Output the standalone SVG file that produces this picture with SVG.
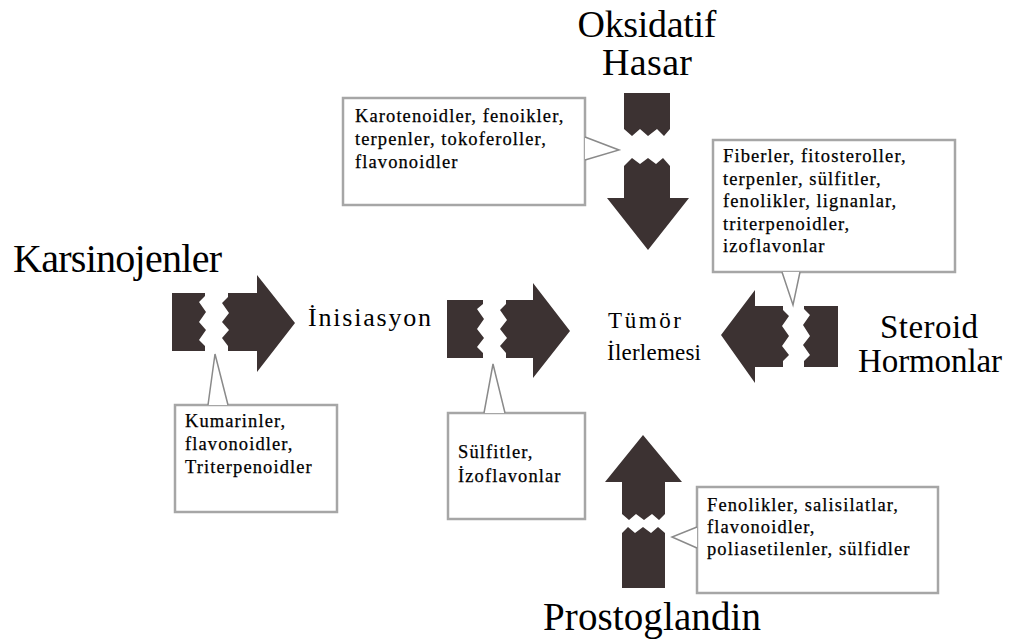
<svg xmlns="http://www.w3.org/2000/svg" width="1013" height="644" viewBox="0 0 1013 644">
<style>
.a{fill:#3c3232}
.box{fill:#fff;stroke:#a6a6a6;stroke-width:2.5}
.co{fill:#fff;stroke:#8a8a8a;stroke-width:1.5}
.t{font-family:"Liberation Serif","Times New Roman",serif;fill:#000}
.bt{font-family:"Liberation Serif","Times New Roman",serif;font-size:18.5px;letter-spacing:1.1px;fill:#000;stroke:#000;stroke-width:0.25}
</style>
<rect width="1013" height="644" fill="#fff"/>
<g id="connectors">
<g id="arrow-karsinojen">
<path class="a" d="M172,293 H205 V296 L199,302 L206,312 L199,322 L206,330 L199,340 L205,346 V351 H172 Z"/>
<path class="a" d="M228,293 H257 V275 L295,323 L257,372 V351 H228 V346 L222,338 L229,330 L222,322 L229,313 L222,303 L228,297 Z"/>
</g>
<g id="arrow-inisiasyon">
<path class="a" d="M447,300 H483 V304 L477,309 L484,319 L477,329 L484,338 L477,347 L483,353 V358 H447 Z"/>
<path class="a" d="M506,300 H533 V283 L570,331 L533,378 V358 H506 V353 L500,346 L507,338 L500,329 L507,320 L500,310 L506,304 Z"/>
</g>
<g id="arrow-steroid">
<path class="a" d="M838,306 H804 V309 L810,315 L803,325 L810,336 L803,345 L810,355 L804,361 V367 H838 Z"/>
<path class="a" d="M783,306 H755 V290 L721,335 L755,383 V367 H783 V361 L789,355 L782,346 L789,336 L782,326 L789,316 L783,310 Z"/>
</g>
<g id="arrow-oksidatif">
<path class="a" d="M624,93 H670 V129 L664,136 L657,129 L648,136 L640,129 L632,136 L624,129 Z"/>
<path class="a" d="M624,166 L632,158 L640,164 L648,158 L656,164 L663,158 L670,166 V198 H689 L648,250 L607,198 H624 Z"/>
</g>
<g id="arrow-prostoglandin">
<path class="a" d="M643,435 L682,482 H665 V514 L659,520 L652,514 L644,520 L636,514 L629,520 L622,514 V482 H605 Z"/>
<path class="a" d="M622,533 L628,527 L635,533 L643,527 L651,533 L658,527 L665,533 V588 H622 Z"/>
</g>
</g>
<g id="labels">
<text class="t" x="647" y="37" font-size="38" text-anchor="middle" textLength="139">Oksidatif</text>
<text class="t" x="647" y="75" font-size="38" text-anchor="middle" textLength="90">Hasar</text>
<text class="t" x="13" y="272" font-size="40" textLength="209">Karsinojenler</text>
<text class="t" x="929" y="338" font-size="33" text-anchor="middle" textLength="98">Steroid</text>
<text class="t" x="930" y="372" font-size="33" text-anchor="middle" textLength="144">Hormonlar</text>
<text class="t" x="652" y="630" font-size="39" text-anchor="middle" textLength="218">Prostoglandin</text>
<text class="t" x="308" y="326" font-size="26" textLength="123">İnisiasyon</text>
<text class="t" x="608" y="328" font-size="23" textLength="73">Tümör</text>
<text class="t" x="607" y="360" font-size="23" textLength="94">İlerlemesi</text>
</g>
<g id="box-karotenoid">
<rect class="box" x="343" y="98" width="242" height="107"/>
<path class="co" d="M585,137 L619,150 L585,160"/>
<text class="bt" x="355" y="122">Karotenoidler, fenoikler,</text>
<text class="bt" x="355" y="145">terpenler, tokoferoller,</text>
<text class="bt" x="355" y="168">flavonoidler</text>
</g>
<g id="box-fiber">
<rect class="box" x="713" y="140" width="242" height="132"/>
<path class="co" d="M782,272 L793,305 L800,272"/>
<text class="bt" x="723" y="162">Fiberler, fitosteroller,</text>
<text class="bt" x="723" y="185">terpenler, sülfitler,</text>
<text class="bt" x="723" y="207">fenolikler, lignanlar,</text>
<text class="bt" x="723" y="230">triterpenoidler,</text>
<text class="bt" x="723" y="252">izoflavonlar</text>
</g>
<g id="box-kumarin">
<rect class="box" x="175" y="405" width="162" height="107"/>
<path class="co" d="M208,405 L215,354 L228,405"/>
<text class="bt" x="185" y="427">Kumarinler,</text>
<text class="bt" x="185" y="450">flavonoidler,</text>
<text class="bt" x="185" y="473">Triterpenoidler</text>
</g>
<g id="box-sulfit">
<rect class="box" x="448" y="413" width="137" height="106"/>
<path class="co" d="M484,413 L493,364 L505,413"/>
<text class="bt" x="458" y="458">Sülfitler,</text>
<text class="bt" x="458" y="482">İzoflavonlar</text>
</g>
<g id="box-fenolik">
<rect class="box" x="697" y="487" width="241" height="106"/>
<path class="co" d="M697,527 L672,537 L697,548"/>
<text class="bt" x="707" y="511">Fenolikler, salisilatlar,</text>
<text class="bt" x="707" y="533">flavonoidler,</text>
<text class="bt" x="707" y="555">poliasetilenler, sülfidler</text>
</g>
</svg>
